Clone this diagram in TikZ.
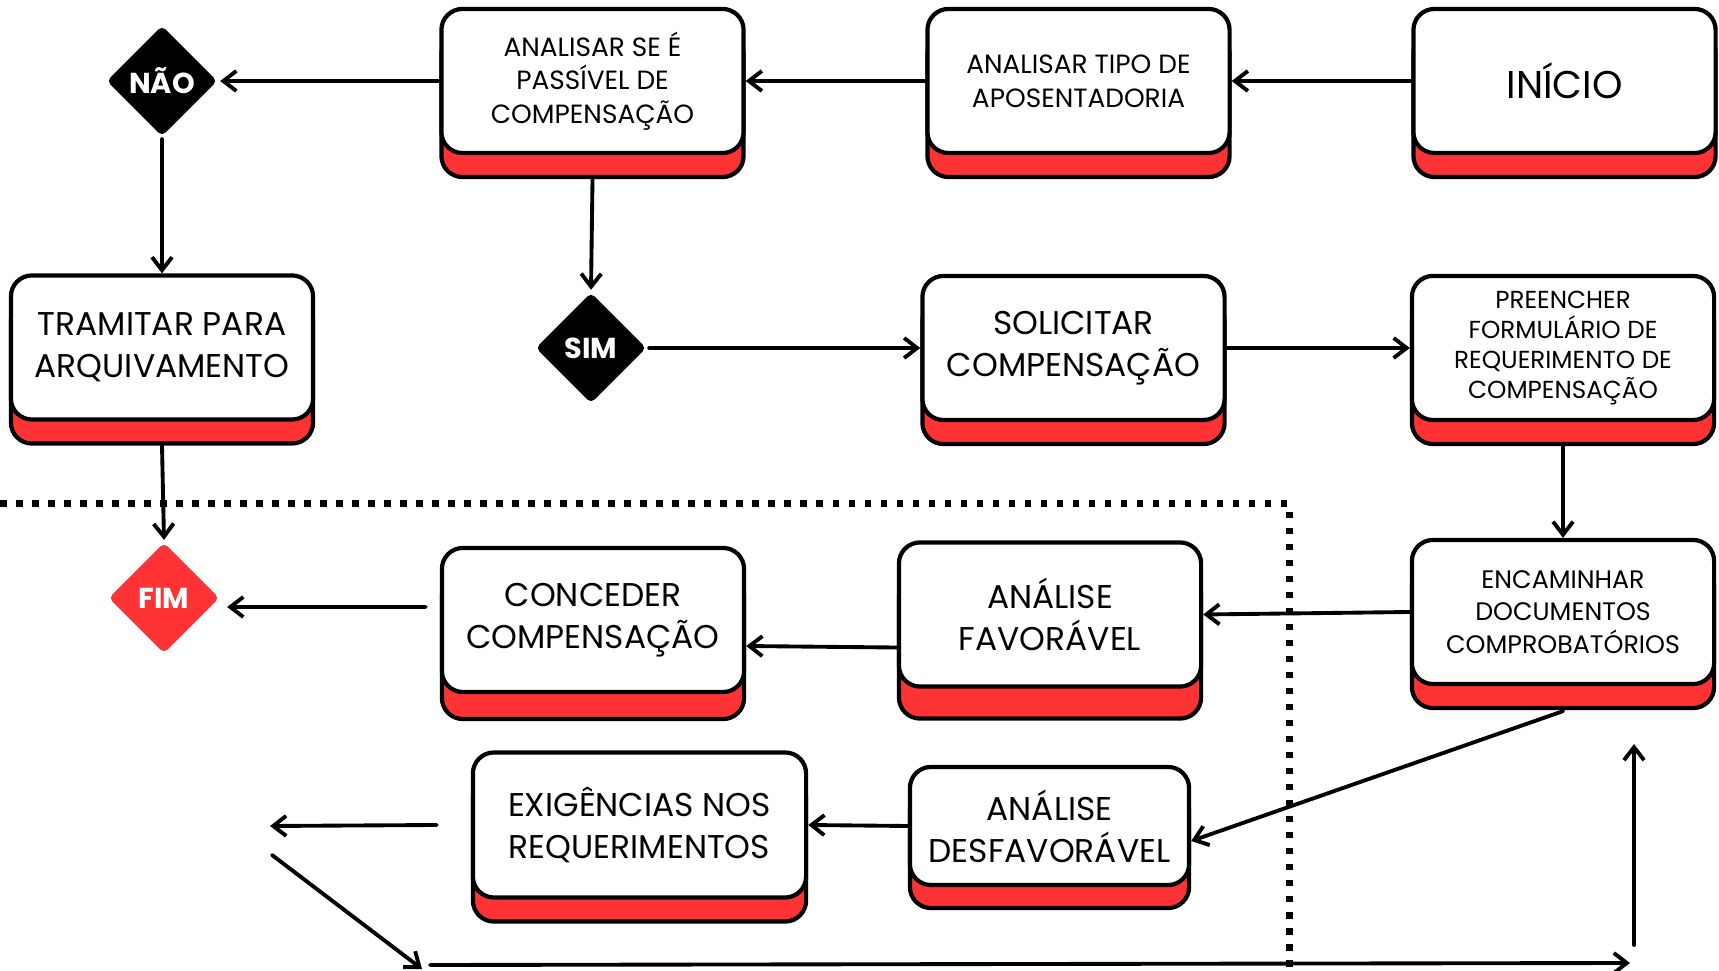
\documentclass[tikz,border=0pt]{standalone}
\usepackage{fontspec}
\setmainfont{Poppins}
\usetikzlibrary{shapes.geometric,shadows,arrows.meta}
\definecolor{boxred}{HTML}{FF3333}

\begin{document}
\begin{tikzpicture}[
        x=0.01cm, y=-0.01cm,
        line width=1.2pt,
        font=\fontsize{9.35}{11.9}\selectfont
    ]
    \tikzset{
        stepbox/.style = {rectangle, rounded corners=0.21cm, draw=black, fill=white, align=center,
            minimum width=3.02cm, minimum height=1.44cm, inner sep=0pt,
            general shadow={shadow yshift=-#1, fill=boxred, draw=black}},
        stepbox/.default = 0.24cm,
        smalltext/.style = {font=\fontsize{7.5}{9.6}\selectfont},
        decision/.style = {diamond, rounded corners=0.05cm, fill=black, text=white, inner sep=0pt,
            minimum width=1.12cm, minimum height=1.12cm, font=\bfseries\fontsize{8.2}{9}\selectfont},
        flow/.style = {-{Straight Barb[length=1.3mm,width=2mm]}, line width=1.1pt, line cap=round},
        lane/.style = {line width=0.07cm, dash pattern=on 0.065cm off 0.095cm},
    }
    \useasboundingbox (0,0) rectangle (1719,971);

    % swimlane border
    \draw[lane] (0,504) -- (1289,504) -- (1289,971);

    % first row
    \node[stepbox, font=\fontsize{11}{13}\selectfont] (inicio) at (1564.5,81) {INÍCIO};
    \node[stepbox, smalltext] (tipo) at (1078.5,81) {ANALISAR TIPO DE\\APOSENTADORIA};
    \node[stepbox, smalltext] (passivel) at (592.5,81) {ANALISAR SE É\\PASSÍVEL DE\\COMPENSAÇÃO};
    \node[decision] (nao) at (162,81) {NÃO};

    % second row
    \node[stepbox] (tramitar) at (162,347.5) {TRAMITAR PARA\\ARQUIVAMENTO};
    \node[decision] (sim) at (591,348) {SIM};
    \node[stepbox] (solicitar) at (1073.5,348) {SOLICITAR\\COMPENSAÇÃO};
    \node[stepbox, font=\fontsize{7}{8.6}\selectfont] (preencher) at (1563,348) {PREENCHER\\FORMULÁRIO DE\\REQUERIMENTO DE\\COMPENSAÇÃO};

    % inside the lane
    \node[decision, fill=boxred] (fim) at (164,598) {FIM};
    \node[stepbox=0.27cm] (conceder) at (593,620) {CONCEDER\\COMPENSAÇÃO};
    \node[stepbox=0.32cm] (favoravel) at (1050,614.5) {ANÁLISE\\FAVORÁVEL};
    \node[stepbox, font=\fontsize{7.2}{9.3}\selectfont] (encaminhar) at (1563,612) {ENCAMINHAR\\DOCUMENTOS\\COMPROBATÓRIOS};
    \node[stepbox=0.24cm, minimum width=3.33cm, minimum height=1.45cm] (exigencias) at (639.5,825) {EXIGÊNCIAS NOS\\REQUERIMENTOS};
    \node[stepbox=0.23cm, minimum width=2.79cm, minimum height=1.18cm] (desfavoravel) at (1049.5,826) {ANÁLISE\\DESFAVORÁVEL};

    \coordinate (retorno) at (270,826);
    \coordinate (descida) at (272,855);
    \coordinate (canto) at (422,969);
    \coordinate (base) at (430,965);
    \coordinate (fundo) at (1630,963);
    \coordinate (subida) at (1634,945);
    \coordinate (topo) at (1634,744);

    % connectors
    \draw[flow] (inicio.west) -- (tipo.east);
    \draw[flow] (tipo.west) -- (passivel.east);
    \draw[flow] (passivel.west) -- (nao.east);
    \draw[flow] (nao.south) -- (tramitar.north);
    \draw[flow] ([yshift=-0.24cm]passivel.south) -- (sim.north);
    \draw[flow] (sim.east) -- (solicitar.west);
    \draw[flow] (solicitar.east) -- (preencher.west);
    \draw[flow] ([yshift=-0.24cm]preencher.south) -- (encaminhar.north);
    \draw[flow] ([yshift=-0.24cm]tramitar.south) -- (fim.north);
    \draw[flow] (encaminhar.west) -- (favoravel.east);
    \draw[flow] ([yshift=-0.33cm]favoravel.west) -- ([yshift=-0.26cm]conceder.east);
    \draw[flow] ([xshift=-0.14cm,yshift=0.13cm]conceder.west) -- ([xshift=0.05cm,yshift=-0.09cm]fim.east);
    \draw[flow] ([yshift=-0.25cm]encaminhar.south) -- ([yshift=-0.15cm]desfavoravel.east);
    \draw[flow] (desfavoravel.west) -- (exigencias.east);
    \draw[flow] ([xshift=-0.34cm]exigencias.west) -- (retorno);
    \draw[flow] (descida) -- (canto);
    \draw[flow] (base) -- (fundo);
    \draw[flow] (subida) -- (topo);
\end{tikzpicture}
\end{document}
